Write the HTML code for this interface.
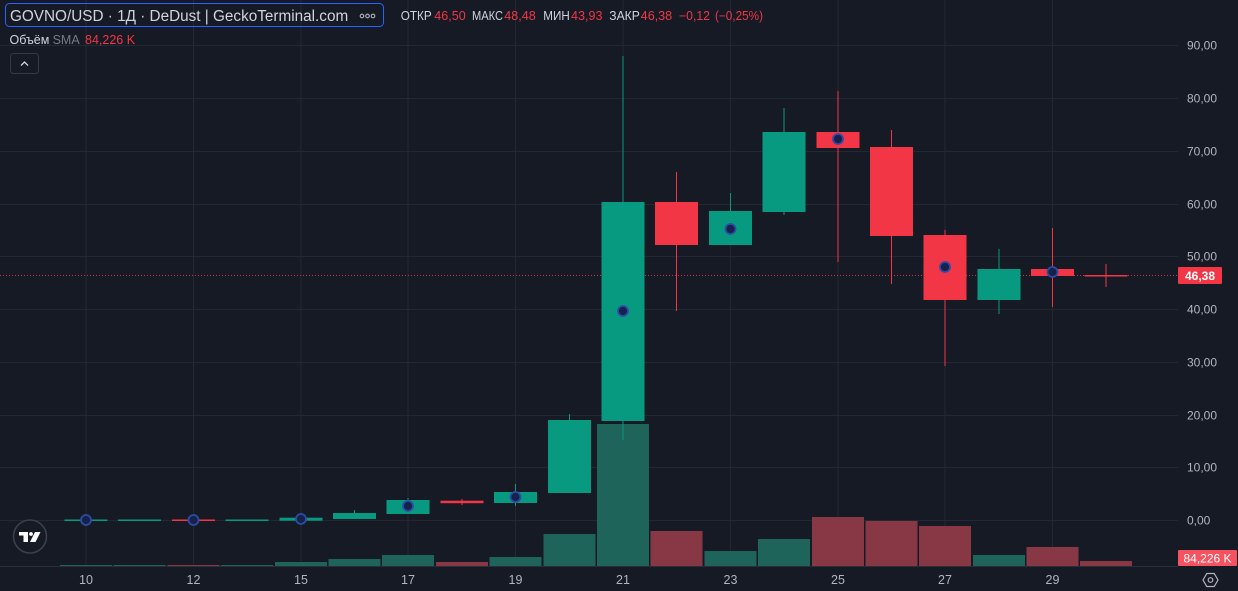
<!DOCTYPE html>
<html><head><meta charset="utf-8"><style>
html,body{margin:0;padding:0;background:#161a25;}
svg{display:block;font-family:"Liberation Sans","Noto Sans CJK SC",sans-serif;}
</style></head><body>
<svg width="1238" height="591" viewBox="0 0 1238 591" xmlns="http://www.w3.org/2000/svg">
<rect width="1238" height="591" fill="#161a25"/>
<!-- grid -->
<g stroke="#242833" stroke-width="1">
<line x1="0" x2="1178" y1="45.5" y2="45.5"/>
<line x1="0" x2="1178" y1="98.5" y2="98.5"/>
<line x1="0" x2="1178" y1="151.5" y2="151.5"/>
<line x1="0" x2="1178" y1="204.5" y2="204.5"/>
<line x1="0" x2="1178" y1="256.5" y2="256.5"/>
<line x1="0" x2="1178" y1="309.5" y2="309.5"/>
<line x1="0" x2="1178" y1="362.5" y2="362.5"/>
<line x1="0" x2="1178" y1="415.5" y2="415.5"/>
<line x1="0" x2="1178" y1="467.5" y2="467.5"/>
<line x1="0" x2="1178" y1="520.5" y2="520.5"/>
<line x1="86" x2="86" y1="0" y2="566"/>
<line x1="193.5" x2="193.5" y1="0" y2="566"/>
<line x1="301" x2="301" y1="0" y2="566"/>
<line x1="408" x2="408" y1="0" y2="566"/>
<line x1="515.5" x2="515.5" y1="0" y2="566"/>
<line x1="623" x2="623" y1="0" y2="566"/>
<line x1="730.5" x2="730.5" y1="0" y2="566"/>
<line x1="838" x2="838" y1="0" y2="566"/>
<line x1="945" x2="945" y1="0" y2="566"/>
<line x1="1052.5" x2="1052.5" y1="0" y2="566"/>
</g>
<line x1="0" x2="1178" y1="566.5" y2="566.5" stroke="#2a2e39"/>

<!-- volume -->
<g>
<rect x="60" y="565" width="52" height="1" fill="#1f645b"/>
<rect x="113.5" y="565" width="52" height="1" fill="#1f645b"/>
<rect x="167.5" y="565" width="52" height="1" fill="#883845"/>
<rect x="221" y="565" width="52" height="1" fill="#1f645b"/>
<rect x="275" y="562" width="52" height="4" fill="#1f645b"/>
<rect x="328.5" y="559" width="52" height="7" fill="#1f645b"/>
<rect x="382" y="555" width="52" height="11" fill="#1f645b"/>
<rect x="436" y="562" width="52" height="4" fill="#883845"/>
<rect x="489.5" y="557" width="52" height="9" fill="#1f645b"/>
<rect x="543.5" y="534" width="52" height="32" fill="#1f645b"/>
<rect x="597" y="424" width="52" height="142" fill="#1f645b"/>
<rect x="650.5" y="531" width="52" height="35" fill="#883845"/>
<rect x="704.5" y="551" width="52" height="15" fill="#1f645b"/>
<rect x="758" y="539" width="52" height="27" fill="#1f645b"/>
<rect x="812" y="517" width="52" height="49" fill="#883845"/>
<rect x="865.5" y="521" width="52" height="45" fill="#883845"/>
<rect x="919" y="526" width="52" height="40" fill="#883845"/>
<rect x="973" y="555" width="52" height="11" fill="#1f645b"/>
<rect x="1026.5" y="547" width="52" height="19" fill="#883845"/>
<rect x="1080" y="561" width="52" height="5" fill="#883845"/>
</g>

<!-- price line -->
<line x1="0" x2="1178" y1="275.5" y2="275.5" stroke="#f23645" stroke-width="1" stroke-dasharray="1 2" opacity="0.85"/>

<!-- candles -->
<g>
<rect x="64.5" y="519.5" width="43" height="1.5" fill="#089981"/>
<rect x="118" y="519.5" width="43" height="1.5" fill="#089981"/>
<rect x="172" y="519.5" width="43" height="1.5" fill="#f23645"/>
<rect x="225.5" y="519.5" width="43" height="1.5" fill="#089981"/>
<rect x="279.5" y="517.7" width="43" height="3" fill="#089981"/>
<rect x="354" y="510" width="1" height="4" fill="#089981"/>
<rect x="333" y="513" width="43" height="6" fill="#089981"/>
<rect x="407.5" y="498" width="1" height="4" fill="#089981"/>
<rect x="386.5" y="500" width="43" height="14" fill="#089981"/>
<rect x="461.5" y="499" width="1" height="6" fill="#f23645"/>
<rect x="440.5" y="500.7" width="43" height="2.5" fill="#f23645"/>
<rect x="515" y="484" width="1" height="22" fill="#089981"/>
<rect x="494" y="492" width="43" height="11" fill="#089981"/>
<rect x="569" y="414" width="1" height="8" fill="#089981"/>
<rect x="548" y="420" width="43" height="73" fill="#089981"/>
<rect x="622.5" y="56" width="1" height="384" fill="#089981"/>
<rect x="601.5" y="202" width="43" height="219" fill="#089981"/>
<rect x="676" y="172" width="1" height="139" fill="#f23645"/>
<rect x="655" y="202" width="43" height="43" fill="#f23645"/>
<rect x="730" y="193" width="1" height="52" fill="#089981"/>
<rect x="709" y="211" width="43" height="34" fill="#089981"/>
<rect x="783.5" y="108" width="1" height="107" fill="#089981"/>
<rect x="762.5" y="132" width="43" height="80" fill="#089981"/>
<rect x="837.5" y="91" width="1" height="171" fill="#f23645"/>
<rect x="816.5" y="132" width="43" height="16" fill="#f23645"/>
<rect x="891" y="130" width="1" height="154" fill="#f23645"/>
<rect x="870" y="147" width="43" height="89" fill="#f23645"/>
<rect x="944.5" y="230" width="1" height="136" fill="#f23645"/>
<rect x="923.5" y="235" width="43" height="65" fill="#f23645"/>
<rect x="998.5" y="249" width="1" height="65" fill="#089981"/>
<rect x="977.5" y="269" width="43" height="31" fill="#089981"/>
<rect x="1052" y="228" width="1" height="79" fill="#f23645"/>
<rect x="1031" y="269" width="43" height="7" fill="#f23645"/>
<rect x="1105.5" y="264" width="1" height="23" fill="#f23645"/>
<rect x="1084.5" y="275" width="43" height="1.5" fill="#f23645"/>
</g>

<!-- markers -->
<g fill="#17224a" stroke="#2d4ba6" stroke-width="1.8">
<circle cx="86" cy="520" r="5"/>
<circle cx="193.5" cy="520" r="5"/>
<circle cx="301" cy="519" r="5"/>
<circle cx="408" cy="506" r="5"/>
<circle cx="515.5" cy="497" r="5"/>
<circle cx="623" cy="311" r="5"/>
<circle cx="730.5" cy="229" r="5"/>
<circle cx="838" cy="139" r="5"/>
<circle cx="945" cy="267" r="5"/>
<circle cx="1052.5" cy="272" r="5"/>
</g>

<!-- header -->
<rect x="5.5" y="3.5" width="378" height="23" rx="4" fill="none" stroke="#2962ff" stroke-width="1"/>
<text x="10" y="21" font-size="15.3" fill="#d1d4dc">GOVNO/USD · 1Д · DeDust | GeckoTerminal.com</text>
<g fill="none" stroke="#b2b5be" stroke-width="1.1">
<circle cx="362" cy="16" r="1.8"/>
<circle cx="367.5" cy="16" r="1.8"/>
<circle cx="373" cy="16" r="1.8"/>
</g>
<g font-size="12.5">
<text x="400.7" y="20" fill="#d1d4dc" textLength="31" lengthAdjust="spacingAndGlyphs">ОТКР</text>
<text x="434.3" y="20" fill="#f23645" textLength="31.5" lengthAdjust="spacingAndGlyphs">46,50</text>
<text x="472" y="20" fill="#d1d4dc" textLength="31" lengthAdjust="spacingAndGlyphs">МАКС</text>
<text x="504.3" y="20" fill="#f23645" textLength="31.5" lengthAdjust="spacingAndGlyphs">48,48</text>
<text x="543.3" y="20" fill="#d1d4dc" textLength="26.5" lengthAdjust="spacingAndGlyphs">МИН</text>
<text x="571" y="20" fill="#f23645" textLength="31.5" lengthAdjust="spacingAndGlyphs">43,93</text>
<text x="609.3" y="20" fill="#d1d4dc" textLength="30.5" lengthAdjust="spacingAndGlyphs">ЗАКР</text>
<text x="640.7" y="20" fill="#f23645" textLength="31.5" lengthAdjust="spacingAndGlyphs">46,38</text>
<text x="679" y="20" fill="#f23645" textLength="31" lengthAdjust="spacingAndGlyphs">−0,12</text>
<text x="715" y="20" fill="#f23645" textLength="48" lengthAdjust="spacingAndGlyphs">(−0,25%)</text>
</g>
<g font-size="12.5">
<text x="9.5" y="44" fill="#d1d4dc">Объём</text>
<text x="52.6" y="44" fill="#787b86">SMA</text>
<text x="85" y="44" fill="#f23645">84,226 K</text>
</g>
<rect x="10.5" y="53.5" width="28" height="20" rx="3" fill="#161a25" stroke="#363a45"/>
<polyline points="21,65.5 24.5,62 28,65.5" fill="none" stroke="#d1d4dc" stroke-width="1.3"/>

<!-- TV logo -->
<circle cx="30" cy="536.5" r="16.5" fill="#161a25" stroke="#3d414c" stroke-width="1.5"/>
<g fill="#ffffff">
<rect x="19" y="532" width="9" height="3.5"/>
<rect x="23.5" y="532" width="4.5" height="10"/>
<circle cx="31" cy="534" r="1.9"/>
<polygon points="35,532 40.5,532 35.5,542 30,542"/>
</g>

<!-- y axis labels -->
<g font-size="12" fill="#b2b5be">
<text x="1187" y="49.5">90,00</text>
<text x="1187" y="102.5">80,00</text>
<text x="1187" y="155.5">70,00</text>
<text x="1187" y="208.5">60,00</text>
<text x="1187" y="260.5">50,00</text>
<text x="1187" y="313.5">40,00</text>
<text x="1187" y="366.5">30,00</text>
<text x="1187" y="419.5">20,00</text>
<text x="1187" y="471.5">10,00</text>
<text x="1187" y="524.5">0,00</text>
</g>
<rect x="1178" y="267" width="44" height="17" rx="1" fill="#f23645"/>
<text x="1200" y="280" font-size="12" fill="#ffffff" font-weight="bold" text-anchor="middle">46,38</text>
<rect x="1178" y="550" width="59" height="16" rx="1" fill="#f7525f"/>
<text x="1207.5" y="562.5" font-size="12" fill="#ffffff" text-anchor="middle">84,226 K</text>

<!-- x axis labels -->
<g font-size="12.5" fill="#b2b5be" text-anchor="middle">
<text x="86" y="584">10</text>
<text x="193.5" y="584">12</text>
<text x="301" y="584">15</text>
<text x="408" y="584">17</text>
<text x="515.5" y="584">19</text>
<text x="623" y="584">21</text>
<text x="730.5" y="584">23</text>
<text x="838" y="584">25</text>
<text x="945" y="584">27</text>
<text x="1052.5" y="584">29</text>
</g>

<!-- settings icon -->
<polygon points="1203,580 1206.8,573.5 1214.2,573.5 1218,580 1214.2,586.5 1206.8,586.5" fill="none" stroke="#b2b5be" stroke-width="1.2"/>
<circle cx="1210.5" cy="580" r="2.3" fill="none" stroke="#b2b5be" stroke-width="1.2"/>
</svg>
</body></html>
